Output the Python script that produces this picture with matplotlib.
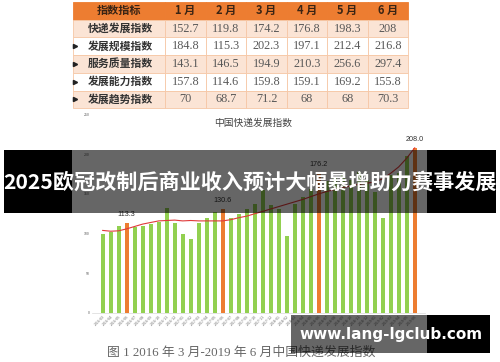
import matplotlib
matplotlib.use("Agg")
import matplotlib.pyplot as plt
from matplotlib.patches import Rectangle
import pandas as pd

plt.rcParams['font.family'] = ['Noto Sans CJK SC', 'DejaVu Sans']

W, H = 500, 362

# ---- table: 2019 monthly express index ----
table_header = ["指数指标", "1 月", "2 月", "3 月", "4 月", "5 月", "6 月"]
index_names = ["快递发展指数", "发展规模指数", "服务质量指数", "发展能力指数", "发展趋势指数"]
express_dev = [152.7, 119.8, 174.2, 176.8, 198.3, 208]
scale_idx = [184.8, 115.3, 202.3, 197.1, 212.4, 216.8]
quality_idx = [143.1, 146.5, 194.9, 210.3, 256.6, 297.4]
capacity_idx = [157.8, 114.6, 159.8, 159.1, 169.2, 155.8]
trend_idx = [70, 68.7, 71.2, 68, 68, 70.3]
table_rows = [express_dev, scale_idx, quality_idx, capacity_idx, trend_idx]

# ---- bar chart: monthly index 2016-03 .. 2019-06 ----
months = pd.period_range("2016-03", "2019-06", freq="M").strftime("%Y-%m").tolist()
index_values = [99, 102, 109, 113.3, 108, 110, 112, 114.5, 132.5, 113,
                99, 93.5, 113.5, 119.5, 127, 130.6, 120, 125, 131, 137,
                155, 136, 131, 97.5, 137, 146, 156, 176.2, 166, 170,
                175, 168, 177, 168, 152.7, 119.8, 174.2, 176.8, 198.3, 208.0]
trend_values = [104, 103, 103.5, 106, 109, 112, 114, 116, 116.5, 117,
                116, 116.5, 116, 116, 116, 116, 117.5, 120, 122, 125,
                128, 131, 134, 137, 140, 143, 146.5, 150, 153, 155.5,
                158, 160, 162, 163.5, 165, 169, 176, 184, 195, 208]
labelled = [3, 15, 27, 39]
chart_title = "中国快递发展指数"
caption = "图 1 2016 年 3 月-2019 年 6 月中国快递发展指数"
banner_text = "2025欧冠改制后商业收入预计大幅暴增助力赛事发展"
site_text = "www.lang-lgclub.com"

fig = plt.figure(figsize=(W / 100, H / 100), dpi=100)
fig.patch.set_facecolor("white")

# chart axes (pixel frame: x 92..425, y 114.5..313)
ax = fig.add_axes([92 / W, (H - 313) / H, (425 - 92) / W, (313 - 114.5) / H])
x = list(range(len(index_values)))
colors = ["#ED7D31" if i in labelled else "#92D050" for i in x]
ax.bar(x, index_values, width=0.5, color=colors, zorder=2)
ax.plot(x, trend_values, color="#E03A3A", lw=0.8, zorder=3)
for i in labelled:
    ax.text(i, index_values[i] + 10.5, f"{index_values[i]:.1f}", ha="center",
            va="center", fontsize=5.2, color="#333333", family=["Liberation Sans"])
ax.set_xlim((92 - 102.7) / 8, (425 - 102.7) / 8)
ax.set_ylim(0, 250)
ax.set_yticks([0, 50, 100, 150, 200, 250])
ax.tick_params(axis="y", length=0, pad=1.5, labelsize=2.6, labelcolor="#555555")
ax.set_xticks(x)
ax.set_xticklabels(months, rotation=45, ha="right", rotation_mode="anchor",
                   fontsize=2.6, color="#666666")
ax.tick_params(axis="x", length=0, pad=1.5)
for s in ["top", "right", "left"]:
    ax.spines[s].set_visible(False)
ax.spines["bottom"].set_color("#D9D9D9")
ax.spines["bottom"].set_linewidth(0.5)
ax.patch.set_alpha(0)

# overlay in pixel coordinates (origin top-left)
ov = fig.add_axes([0, 0, 1, 1], zorder=5)
ov.set_xlim(0, W)
ov.set_ylim(H, 0)
ov.axis("off")
ov.patch.set_alpha(0)

ov.text(253, 123, chart_title, ha="center", va="center", fontsize=7, color="#444444")

# table
col_edges = [73.3, 165, 206, 246, 287, 327, 368, 408]
row_edges = [1.7, 20, 37.3, 55, 72.7, 90.7, 107.7]
fills = ["#ED7D31", "#FBE4D5", "#FFFFFF", "#FBE4D5", "#FFFFFF", "#FBE4D5"]
for r in range(6):
    y0, y1 = row_edges[r], row_edges[r + 1]
    for c in range(7):
        x0, x1 = col_edges[c], col_edges[c + 1]
        ov.add_patch(Rectangle((x0, y0), x1 - x0, y1 - y0, facecolor=fills[r],
                               edgecolor="#F6C7A6" if r else "#ED7D31", lw=0.6, zorder=1))
    yc = (y0 + y1) / 2
    if r == 0:
        for c, t in enumerate(table_header):
            ov.text((col_edges[c] + col_edges[c + 1]) / 2, yc, t, ha="center", va="center",
                    fontsize=8, fontweight="bold", color="#3A2414", zorder=2)
    else:
        ov.text(120, yc, index_names[r - 1], ha="center", va="center", fontsize=7.8,
                fontweight="bold", color="#333333", zorder=2)
        for c, v in enumerate(table_rows[r - 1]):
            ov.text((col_edges[c + 1] + col_edges[c + 2]) / 2, yc, f"{v:g}", ha="center",
                    va="center", fontsize=8.8, color="#595959",
                    family=["Liberation Serif"], zorder=2)
        if r > 1:
            ov.plot(74.5, yc, marker=">", ms=3, color="#222222", zorder=2)

# caption
ov.text(241, 353, caption, ha="center", va="center", fontsize=9.3, color="#666666",
        family=["Liberation Serif", "Noto Sans CJK SC"], zorder=1)

# headline banner
ov.add_patch(Rectangle((4, 150), 68, 63, facecolor="black", lw=0, zorder=6))
ov.add_patch(Rectangle((72, 150), 355, 63, facecolor="black", alpha=0.6, lw=0, zorder=6))
ov.add_patch(Rectangle((427, 150), 69, 63, facecolor="black", lw=0, zorder=6))
ov.text(250, 182, banner_text, ha="center", va="center", fontsize=15.2,
        fontweight="bold", color="white", zorder=7)

# site badge
ov.add_patch(Rectangle((291, 315), 136, 38, facecolor="black", alpha=0.6, lw=0, zorder=6))
ov.add_patch(Rectangle((427, 315), 63, 38, facecolor="black", lw=0, zorder=6))
ov.text(391, 335, site_text, ha="center", va="center", fontsize=11,
        fontweight="bold", color="white", family=["DejaVu Sans"], zorder=7)

fig.savefig("out.png", dpi=100)
